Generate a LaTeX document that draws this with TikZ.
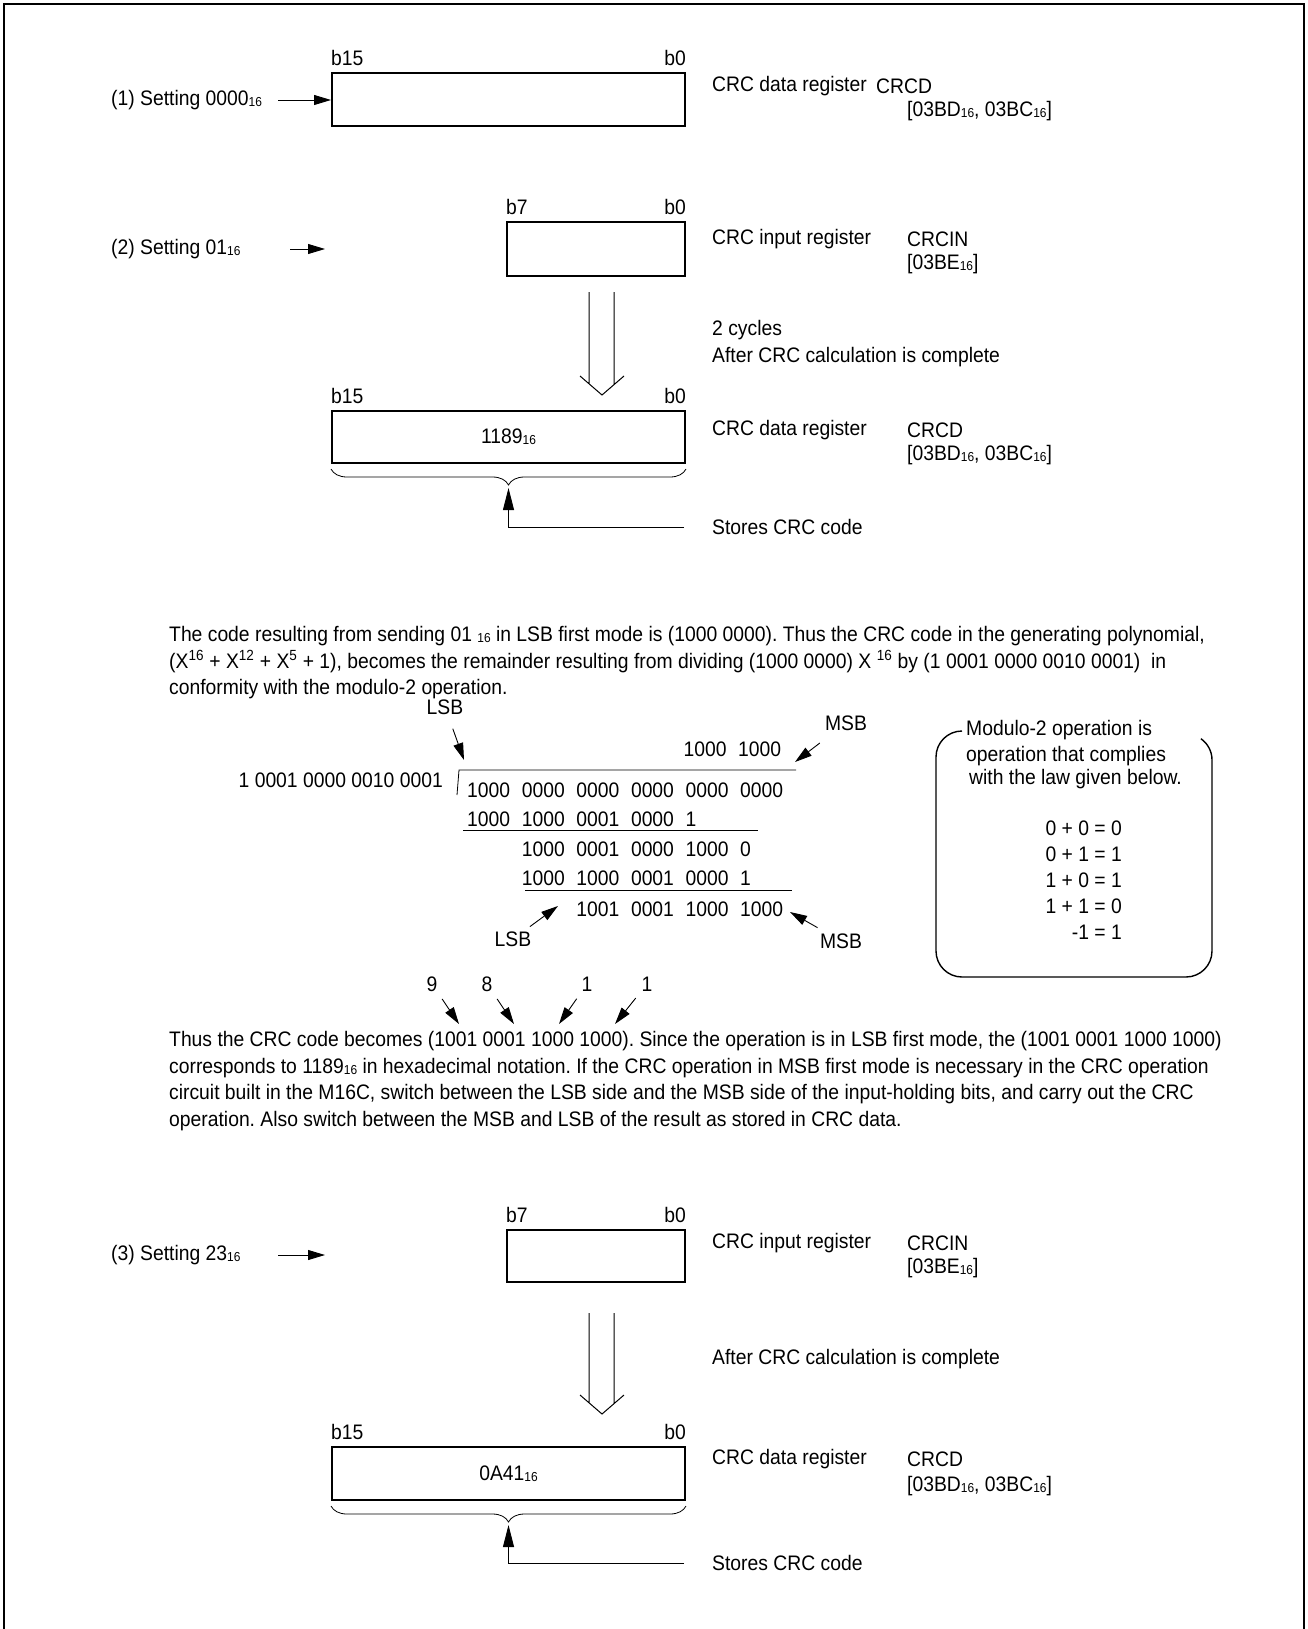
\documentclass[tikz,border=0pt]{standalone}
\usepackage{fontspec}
\setmainfont{Liberation Sans}[FakeStretch=0.92]
\usepackage{tikz}
\usetikzlibrary{arrows.meta,positioning,decorations.pathreplacing}

\newcommand{\hx}[1]{\raisebox{-1pt}{\fontsize{13}{13}\selectfont #1}}
\frenchspacing

\begin{document}
\begin{tikzpicture}[x=1pt, y=-1pt,
      font=\fontsize{21}{26.7}\selectfont,
      reg/.style={draw, line width=2pt, inner sep=0pt},
      txt/.style={anchor=west, inner sep=0pt},
      bitl/.style={anchor=south west, inner sep=0pt},
      bitr/.style={anchor=south east, inner sep=0pt},
      pt/.style={-{Triangle[length=17pt, width=10pt]}, line width=0.9pt},
      up/.style={-{Triangle[length=22pt, width=11pt]}, line width=0.9pt},
      brc/.style={decorate, decoration={brace, mirror, amplitude=16pt}, line width=0.8pt},
      hol/.style={line width=1pt}]
  \useasboundingbox (0,0) rectangle (1308,1629);
  % frame, open at the bottom
  \draw[line width=2pt] (4,1629) -- (4,4) -- (1304,4) -- (1304,1629);

  % (1) setting 0000
  \node[txt] (set1) at (111,100) {(1) Setting 0000\hx{16}};
  \node[reg, anchor=north west, minimum width=353pt, minimum height=53pt] (crcd1) at (331,72) {};
  \node[bitl] (b15a) at ([yshift=6pt]crcd1.north west) {b15};
  \node[bitr] (b0a) at ([yshift=6pt]crcd1.north east) {b0};
  \coordinate (in1) at (278,100);
  \draw[pt] (in1) -- (in1 -| crcd1.west);
  \node[txt] (nm1) at (712,86) {CRC data register};
  \node[txt] (sym1) at (876,86) {CRCD};
  \node[txt] (adr1) at (907,111) {[03BD\hx{16}, 03BC\hx{16}]};

  % (2) setting 01
  \node[txt] (set2) at (111,249) {(2) Setting 01\hx{16}};
  \coordinate (in2) at (290,249);
  \draw[pt] (in2) -- ++(35,0);
  \node[reg, anchor=north west, minimum width=178pt, minimum height=54pt] (crcin1) at (506,221) {};
  \node[bitl] (b7a) at ([yshift=6pt]crcin1.north west) {b7};
  \node[bitr] (b0b) at ([yshift=6pt]crcin1.north east) {b0};
  \node[txt] (nm2) at (712,239) {CRC input register};
  \node[txt] (sym2) at (907,239) {CRCIN};
  \node[txt] (adr2) at (907,264) {[03BE\hx{16}]};
  \draw[hol] (589,292) -- (589,384) (614,292) -- (614,384)
    (580,376) -- (602,395) -- (624,376);
  \node[txt] (cyc) at (712,330) {2 cycles};
  \node[txt] (aft1) at (712,357) {After CRC calculation is complete};
  \node[reg, anchor=north west, minimum width=353pt, minimum height=52pt] (crcd2) at (331,410) {1189\hx{16}};
  \node[bitl] (b15b) at ([yshift=6pt]crcd2.north west) {b15};
  \node[bitr] (b0c) at ([yshift=6pt]crcd2.north east) {b0};
  \node[txt] (nm3) at (712,430) {CRC data register};
  \node[txt] (sym3) at (907,430) {CRCD};
  \node[txt] (adr3) at (907,455) {[03BD\hx{16}, 03BC\hx{16}]};
  \draw[brc] ([yshift=-5pt]crcd2.south west) -- ([yshift=-5pt]crcd2.south east);
  \coordinate (tip2) at ([yshift=-24pt]crcd2.south);
  \node[txt] (st2) at (712,527) {Stores CRC code};
  \draw[up] ([xshift=-28pt]st2.west) -| (tip2);

  % text
  \node[txt, anchor=north west, align=left] (par1) at (169,626) {The code resulting from sending 01 \hx{16} in LSB first mode is (1000 0000). Thus the CRC code in the generating polynomial,\\
    (X\textsuperscript{16} + X\textsuperscript{12} + X\textsuperscript{5} + 1), becomes the remainder resulting from dividing (1000 0000) X \textsuperscript{16} by (1 0001 0000 0010 0001)\ \ in\\
    conformity with the modulo-2 operation.};

  % modulo-2 division
  \node (lsbT) at (445,707) {LSB};
  \node (msbT) at (846,723) {MSB};
  \node[anchor=east, inner sep=0pt] (dvs) at (443,780) {1 0001 0000 0010 0001};
  \foreach \c/\g in {5/1000, 6/1000} { \node[txt] (q-\c) at ({465+54.6*(\c-1)}, 749) {\g}; }
  \foreach \c/\g in {1/1000, 2/0000, 3/0000, 4/0000, 5/0000, 6/0000} { \node[txt] (r1-\c) at ({467+54.6*(\c-1)}, 790) {\g}; }
  \foreach \c/\g in {1/1000, 2/1000, 3/0001, 4/0000, 5/1} { \node[txt] (r2-\c) at ({467+54.6*(\c-1)}, 819) {\g}; }
  \foreach \c/\g in {2/1000, 3/0001, 4/0000, 5/1000, 6/0} { \node[txt] (r3-\c) at ({467+54.6*(\c-1)}, 849) {\g}; }
  \foreach \c/\g in {2/1000, 3/1000, 4/0001, 5/0000, 6/1} { \node[txt] (r4-\c) at ({467+54.6*(\c-1)}, 878) {\g}; }
  \foreach \c/\g in {3/1001, 4/0001, 5/1000, 6/1000} { \node[txt] (r5-\c) at ({467+54.6*(\c-1)}, 909) {\g}; }
  \draw[line width=0.8pt] (457,795) -- (459,770) -- (796,770);
  \draw[line width=0.8pt] (463,830) -- (758,830);
  \draw[line width=0.8pt] (525,890) -- (792,890);
  \node (lsbB) at (513,939) {LSB};
  \node (msbB) at (841,941) {MSB};
  \coordinate (lsbTe) at (464,760);
  \coordinate (msbTe) at (795,762);
  \coordinate (lsbBe) at (558,906);
  \coordinate (msbBe) at (790,912);
  \draw[pt, shorten <=23pt] (lsbT.center) -- (lsbTe);
  \draw[pt, shorten <=33pt] (msbT.center) -- (msbTe);
  \draw[pt, shorten <=21pt] (lsbB.center) -- (lsbBe);
  \draw[pt, shorten <=27pt] (msbB.center) -- (msbBe);

  % modulo-2 law
  \draw[line width=1.4pt] (962,731) arc[start angle=-90, end angle=-180, radius=26]
    -- (936,951) arc[start angle=180, end angle=90, radius=26]
    -- (1186,977) arc[start angle=90, end angle=0, radius=26]
    -- (1212,760) arc[start angle=0, end angle=-55, radius=26];
  \node[txt] (law1) at (966,730) {Modulo-2 operation is};
  \node[txt] (law2) at (966,756) {operation that complies};
  \node[txt] (law3) at (969,779) {with the law given below.};
  \foreach \n/\y/\e in {1/828/0 + 0 = 0, 2/854/0 + 1 = 1, 3/880/1 + 0 = 1, 4/906/1 + 1 = 0, 5/932/-1 = 1} {
    \node[anchor=east, inner sep=0pt] (eq\n) at (1122,\y) {\e};
  }

  % bit weights
  \foreach \n/\x/\v/\ex in {a/432/9/459, b/487/8/514, c/587/1/559, d/647/1/615} {
    \node (w\n) at (\x,984) {\v};
    \coordinate (w\n e) at (\ex,1024);
    \draw[pt, shorten <=18pt] (w\n.center) -- (w\n e);
  }

  \node[txt, anchor=north west, align=left] (par2) at (169,1031) {Thus the CRC code becomes (1001 0001 1000 1000). Since the operation is in LSB first mode, the (1001 0001 1000 1000)\\
    corresponds to 1189\hx{16} in hexadecimal notation. If the CRC operation in MSB first mode is necessary in the CRC operation\\
    circuit built in the M16C, switch between the LSB side and the MSB side of the input-holding bits, and carry out the CRC\\
    operation. Also switch between the MSB and LSB of the result as stored in CRC data.};

  % (3) setting 23
  \node[txt] (set3) at (111,1255) {(3) Setting 23\hx{16}};
  \coordinate (in3) at (278,1255);
  \draw[pt] (in3) -- ++(47,0);
  \node[reg, anchor=north west, minimum width=178pt, minimum height=52pt] (crcin2) at (506,1229) {};
  \node[bitl] (b7b) at ([yshift=6pt]crcin2.north west) {b7};
  \node[bitr] (b0d) at ([yshift=6pt]crcin2.north east) {b0};
  \node[txt] (nm4) at (712,1243) {CRC input register};
  \node[txt] (sym4) at (907,1243) {CRCIN};
  \node[txt] (adr4) at (907,1268) {[03BE\hx{16}]};
  \draw[hol] (589,1313) -- (589,1403) (614,1313) -- (614,1403)
    (580,1395) -- (602,1414) -- (624,1395);
  \node[txt] (aft2) at (712,1359) {After CRC calculation is complete};
  \node[reg, anchor=north west, minimum width=353pt, minimum height=53pt] (crcd3) at (331,1446) {0A41\hx{16}};
  \node[bitl] (b15c) at ([yshift=6pt]crcd3.north west) {b15};
  \node[bitr] (b0e) at ([yshift=6pt]crcd3.north east) {b0};
  \node[txt] (nm5) at (712,1459) {CRC data register};
  \node[txt] (sym5) at (907,1459) {CRCD};
  \node[txt] (adr5) at (907,1486) {[03BD\hx{16}, 03BC\hx{16}]};
  \draw[brc] ([yshift=-5pt]crcd3.south west) -- ([yshift=-5pt]crcd3.south east);
  \coordinate (tip3) at ([yshift=-24pt]crcd3.south);
  \node[txt] (st3) at (712,1563) {Stores CRC code};
  \draw[up] ([xshift=-28pt]st3.west) -| (tip3);
\end{tikzpicture}
\end{document}
